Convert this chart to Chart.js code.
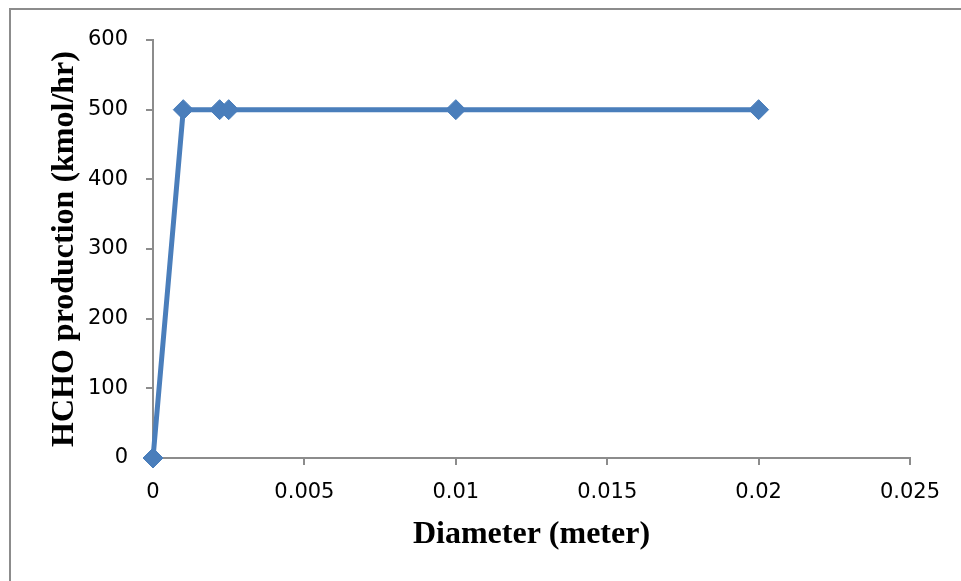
<!DOCTYPE html>
<html>
<head>
<meta charset="utf-8">
<script src="https://cdn.jsdelivr.net/npm/chart.js@4"></script>
<style>
  html, body { margin: 0; padding: 0; background: #fff; overflow: hidden; }
  #wrap { position: relative; width: 961px; height: 581px; }
  #frame {
    position: absolute; left: 9px; top: 8px; width: 1000px; height: 1000px;
    border-left: 2px solid #8c8c8c; border-top: 2px solid #8c8c8c;
  }
  canvas { position: absolute; left: 0; top: 0; }
</style>
</head>
<body>
<div id="wrap">
  <div id="frame"></div>
  <canvas id="chart" width="961" height="581"></canvas>
</div>
<script>
// diameter (m) vs HCHO production (kmol/hr)
const diameters = [0, 0.001, 0.0022, 0.0025, 0.01, 0.02]
const production = [0, 500, 500, 500, 500, 500]

const xTicks = [0, 0.005, 0.01, 0.015, 0.02, 0.025]
const yTicks = [0, 100, 200, 300, 400, 500, 600]

const blue = "#4a7ebb"
const axisGray = "#8c8c8c"
const tickFont = { family: "DejaVu Sans", size: 21 }
const titleFont = { family: "Liberation Serif", size: 32, weight: "bold" }

const points = diameters.map((d, i) => ({ x: d, y: production[i] }))

new Chart(document.getElementById("chart"), {
  type: "scatter",
  data: {
    datasets: [
      {
        data: points,
        showLine: true,
        clip: false,
        borderColor: blue,
        borderWidth: 5,
        pointStyle: "rectRot",
        pointRadius: 10,
        pointBackgroundColor: blue,
        pointBorderColor: blue,
        pointBorderWidth: 1,
      }
    ]
  },
  options: {
    responsive: false,
    devicePixelRatio: 1,
    animation: false,
    layout: { padding: { top: 40, right: 51, left: 0, bottom: 0 } },
    plugins: { legend: { display: false }, tooltip: { enabled: false } },
    scales: {
      x: {
        type: "linear",
        min: xTicks[0],
        max: xTicks[xTicks.length - 1],
        afterBuildTicks: (scale) => { scale.ticks = xTicks.map(v => ({ value: v })) },
        afterFit: (scale) => { scale.height = 123 },
        ticks: {
          font: tickFont,
          color: "#000",
          padding: 15,
          maxRotation: 0,
          callback: (v) => String(+v.toFixed(4)),
        },
        grid: { drawOnChartArea: false, drawTicks: true, tickLength: 7, tickColor: axisGray, lineWidth: 2 },
        border: { color: axisGray, width: 2 },
        title: {
          display: true,
          text: "Diameter (meter)",
          font: titleFont,
          color: "#000",
          padding: { top: 0, bottom: 27 },
        },
      },
      y: {
        min: yTicks[0],
        max: yTicks[yTicks.length - 1],
        afterBuildTicks: (scale) => { scale.ticks = yTicks.map(v => ({ value: v })) },
        afterFit: (scale) => { scale.width = 153 },
        ticks: { font: tickFont, color: "#000", padding: 18 },
        grid: { drawOnChartArea: false, drawTicks: true, tickLength: 7, tickColor: axisGray, lineWidth: 2 },
        border: { color: axisGray, width: 2 },
        title: {
          display: true,
          text: "HCHO production (kmol/hr)",
          font: titleFont,
          color: "#000",
          padding: { top: 46, bottom: 0 },
        },
      },
    },
  },
})
</script>
</body>
</html>
